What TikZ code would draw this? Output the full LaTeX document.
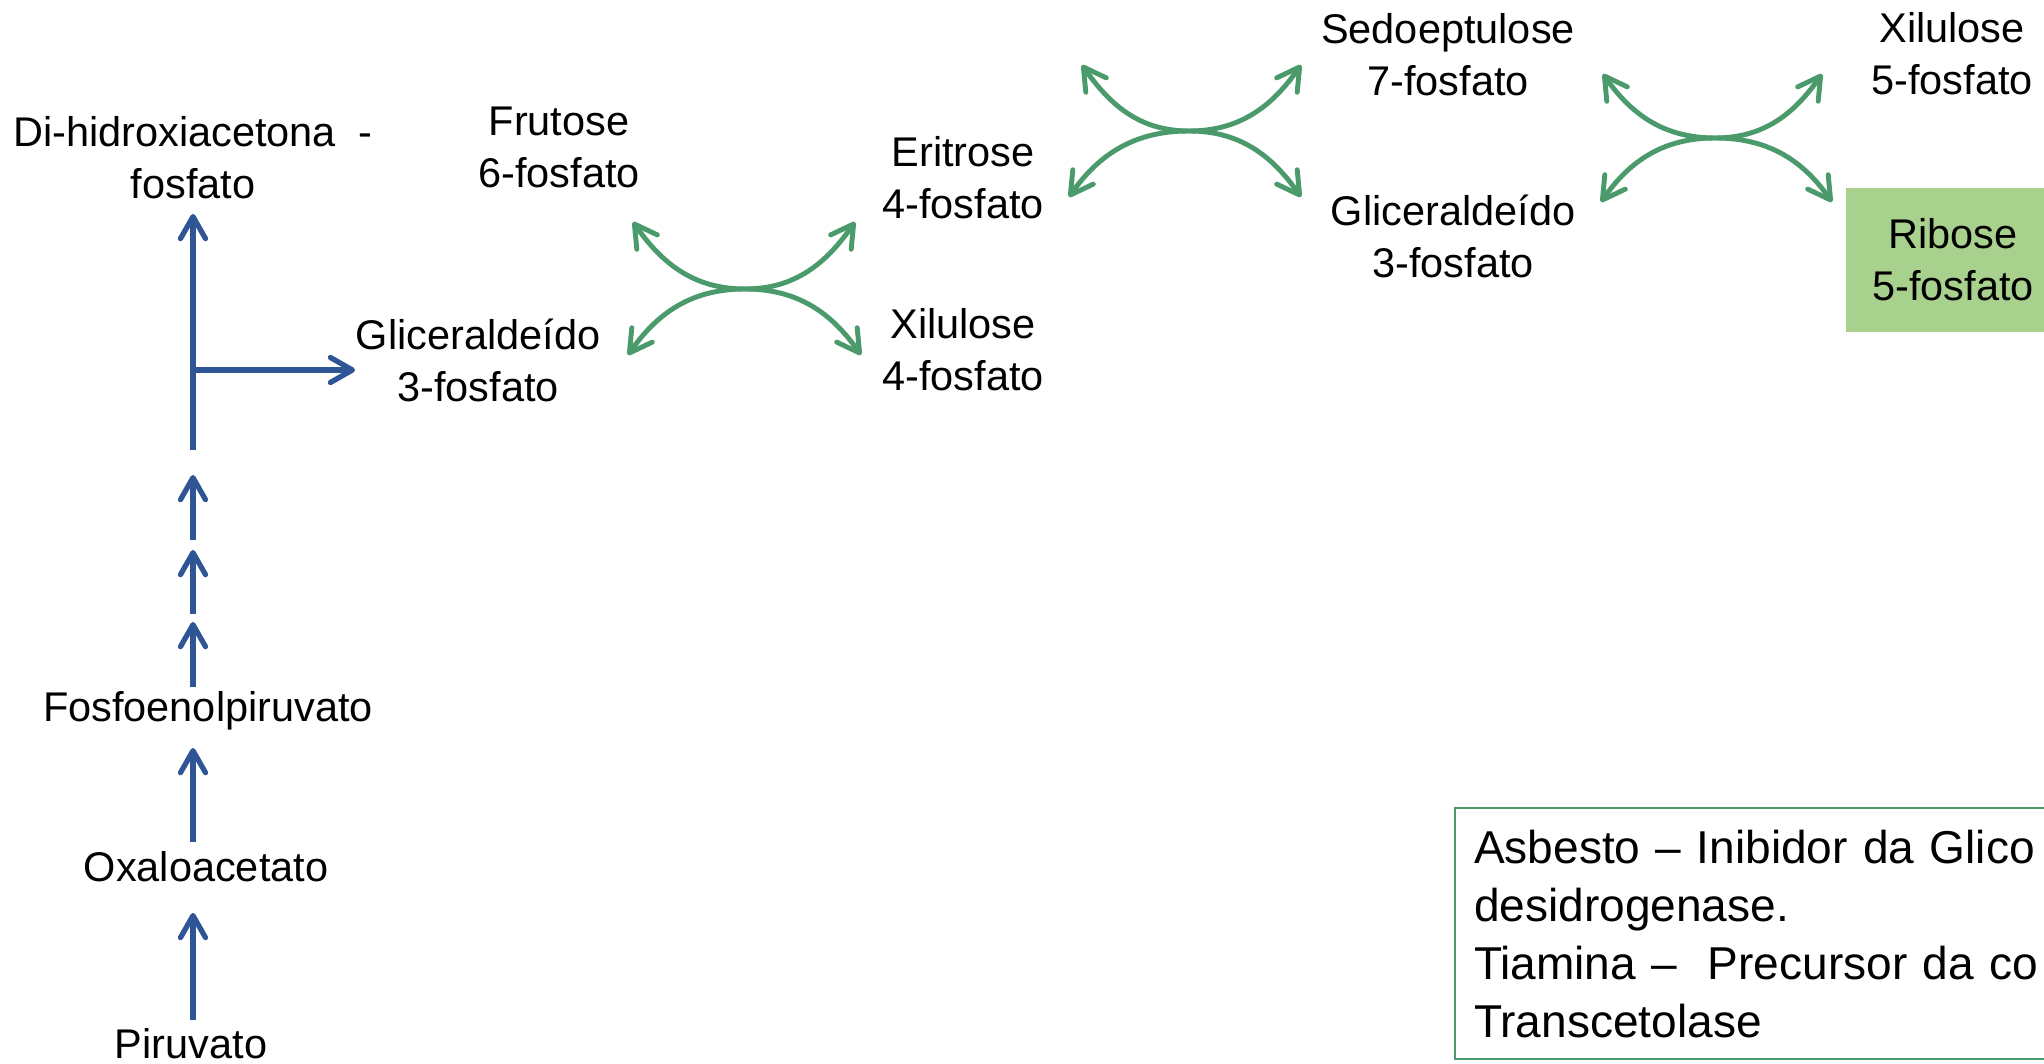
\documentclass[tikz,border=0pt]{standalone}
\usepackage{fontspec}
\setmainfont{Liberation Sans}
\usepackage{tikz}
\usetikzlibrary{arrows.meta}
\usepackage{xcolor}
\definecolor{pathblue}{HTML}{2F5597}
\definecolor{pathgreen}{HTML}{4A9A6C}
\definecolor{ribosegreen}{HTML}{A9D18E}

\begin{document}
\begin{tikzpicture}[x=0.01cm, y=-0.01cm,
		>={Straight Barb[length=0.22cm, width=0.25cm, round]},
		lbl/.style={align=center, inner sep=0pt, font=\fontsize{11.8}{14.8}\selectfont},
		bluearrow/.style={->, draw=pathblue, line width=1.5pt},
		greenarrow/.style={<->, draw=pathgreen, line width=1.4pt},
		infobox/.style={draw=pathgreen, line width=0.6pt, anchor=north west, align=left,
			text width=6.6cm, minimum height=2.51cm, inner xsep=0.19cm, inner ysep=0pt,
			font=\fontsize{13.1}{16.5}\selectfont}]
				\useasboundingbox (0, 0) rectangle (2044, 1064);
				\clip (0, 0) rectangle (2044, 1064);
				% compostos
				\node[lbl] (dhap) at (193, 158) {Di-hidroxiacetona\ \ -\\fosfato};
				\node[lbl] (g3p) at (478, 360) {Gliceralde\'ido\\3-fosfato};
				\node[lbl] (f6p) at (559, 147) {Frutose\\6-fosfato};
				\node[lbl] (e4p) at (963, 178) {Eritrose\\4-fosfato};
				\node[lbl] (x4p) at (963, 350) {Xilulose\\4-fosfato};
				\node[lbl] (s7p) at (1448, 55) {Sedoeptulose\\7-fosfato};
				\node[lbl] (g3pb) at (1453, 236) {Gliceralde\'ido\\3-fosfato};
				\node[lbl] (x5p) at (1952, 54) {Xilulose\\5-fosfato};
				\node[lbl, fill=ribosegreen, minimum width=2.13cm, minimum height=1.43cm] (r5p) at (1953, 260) {Ribose\\5-fosfato};
				\node[lbl] (pep) at (208, 711) {Fosfoenolpiruvato};
				\node[lbl] (oaa) at (206, 867) {Oxaloacetato};
				\node[lbl] (pir) at (191, 1044) {Piruvato};
				\node[infobox] (nota) at (1454, 807) {Asbesto -- Inibidor da Glico\\desidrogenase.\\Tiamina --\ \ Precursor da co\\Transcetolase};
				% gliconeogenese
				\coordinate (trunk) at (193, 450);
				\coordinate (fork) at (193, 370);
				\draw[bluearrow, shorten <=0.08cm, shorten >=0.30cm] (pir.north -| trunk) -- (oaa.south -| trunk);
				\draw[bluearrow, shorten <=0.09cm, shorten >=0.17cm] (oaa.north -| trunk) -- (pep.south -| trunk);
				\coordinate (s1) at (193, 687);
				\coordinate (s2) at (193, 622);
				\coordinate (s3) at (193, 614);
				\coordinate (s4) at (193, 550);
				\coordinate (s5) at (193, 540);
				\coordinate (s6) at (193, 475);
				\draw[bluearrow] (s1) -- (s2);
				\draw[bluearrow] (s3) -- (s4);
				\draw[bluearrow] (s5) -- (s6);
				\draw[bluearrow, shorten >=0.14cm] (trunk) -- (dhap.south);
				\draw[bluearrow] (fork) -- (fork -| g3p.west);
				% transcetolase / transaldolase
				\coordinate (xa) at (745, 289);
				\coordinate (xb) at (1189, 131);
				\coordinate (xc) at (1715, 138);
				\draw[greenarrow] (633, 222) to[out=-55, in=180] (xa) to[out=0, in=-125] (855, 222);
				\draw[greenarrow] (628, 355) to[out=55, in=180] (xa) to[out=0, in=125] (861, 355);
				\draw[greenarrow] (1082, 65) to[out=-55, in=180] (xb) to[out=0, in=-125] (1301, 65);
				\draw[greenarrow] (1069, 197) to[out=55, in=180] (xb) to[out=0, in=125] (1301, 197);
				\draw[greenarrow] (1603, 74) to[out=-55, in=180] (xc) to[out=0, in=-125] (1822, 74);
				\draw[greenarrow] (1601, 202) to[out=55, in=180] (xc) to[out=0, in=125] (1832, 202);
			\end{tikzpicture}
\end{document}
